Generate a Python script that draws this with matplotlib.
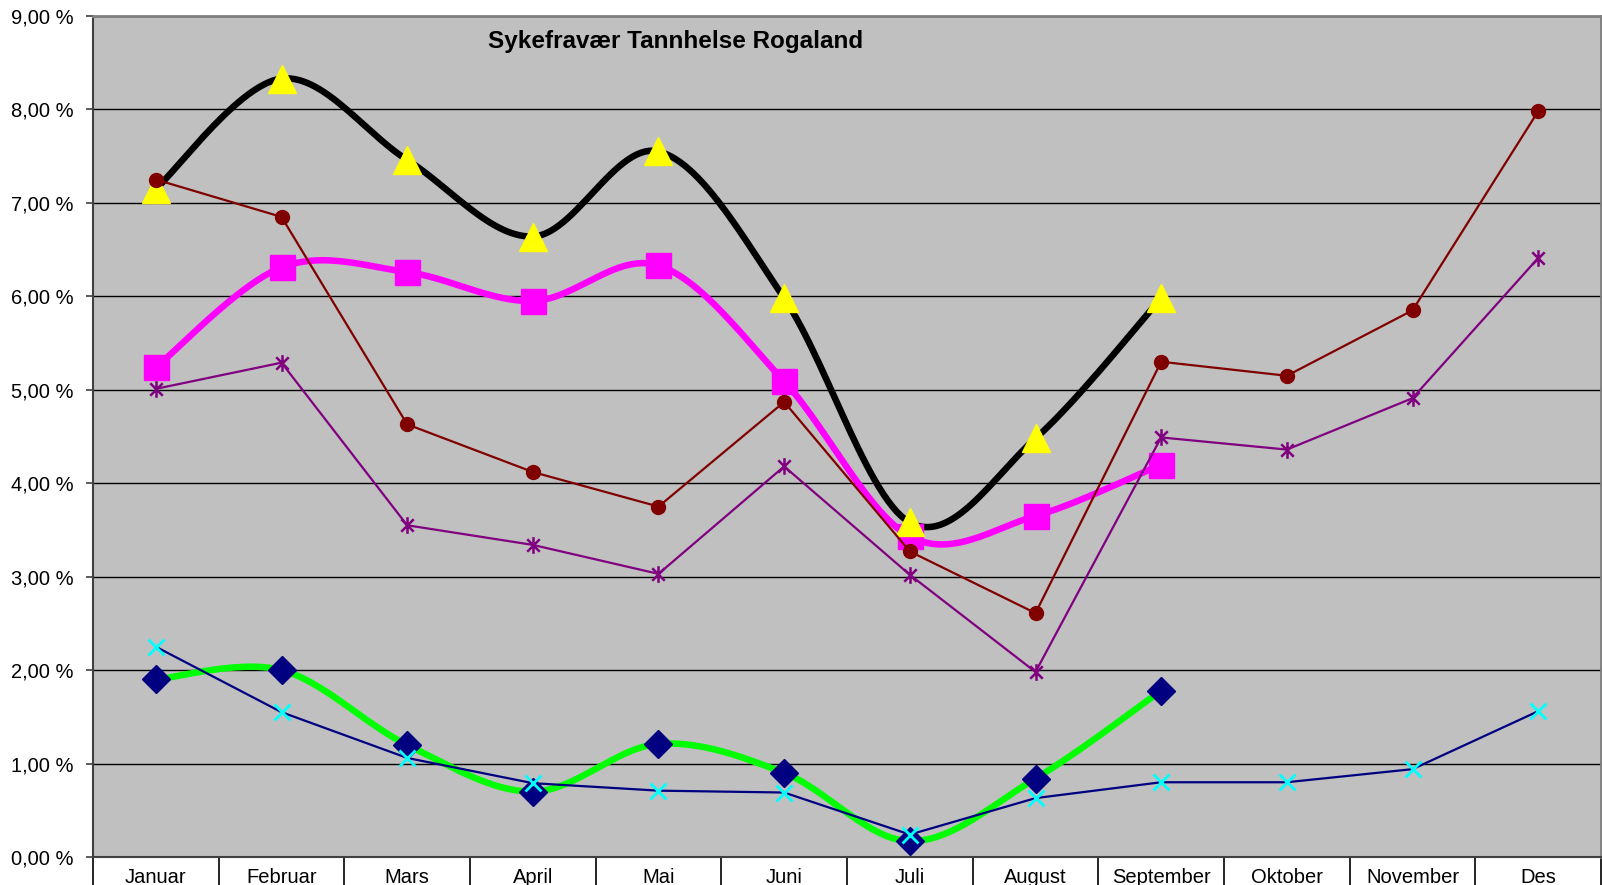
import matplotlib
matplotlib.use("Agg")
import matplotlib.pyplot as plt
import numpy as np
from matplotlib.path import Path
from matplotlib.ticker import FuncFormatter, FixedLocator

# Data (percent)
months = ["Januar", "Februar", "Mars", "April", "Mai", "Juni", "Juli",
          "August", "September", "Oktober", "November", "Des"]

black_tri = [7.15, 8.33, 7.46, 6.64, 7.55, 5.98, 3.58, 4.48, 5.98]
magenta_sq = [5.24, 6.31, 6.26, 5.95, 6.33, 5.09, 3.43, 3.65, 4.20]
red_circle = [7.25, 6.85, 4.63, 4.12, 3.75, 4.87, 3.27, 2.61, 5.30, 5.15, 5.85, 7.98]
purple_star = [5.01, 5.29, 3.55, 3.34, 3.03, 4.18, 3.02, 1.98, 4.49, 4.36, 4.91, 6.41]
green_diamond = [1.90, 2.00, 1.20, 0.70, 1.21, 0.90, 0.17, 0.84, 1.78]
navy_x = [2.25, 1.55, 1.06, 0.79, 0.71, 0.69, 0.24, 0.63, 0.80, 0.80, 0.94, 1.56]

title = "Sykefravær Tannhelse Rogaland"


def smooth(xs, ys, n=30):
    # Bezier-smoothing som i Excel (Catmull-Rom-lignende)
    xs = np.asarray(xs, float)
    ys = np.asarray(ys, float)
    px = np.concatenate([[xs[0]], xs, [xs[-1]]])
    py = np.concatenate([[ys[0]], ys, [ys[-1]]])
    outx, outy = [], []
    t = np.linspace(0, 1, n)
    for i in range(1, len(px) - 2):
        p0 = np.array([px[i], py[i]])
        p3 = np.array([px[i + 1], py[i + 1]])
        c1 = p0 + (np.array([px[i + 1], py[i + 1]]) - np.array([px[i - 1], py[i - 1]])) / 6
        c2 = p3 - (np.array([px[i + 2], py[i + 2]]) - np.array([px[i], py[i]])) / 6
        b = ((1 - t) ** 3)[:, None] * p0 + (3 * (1 - t) ** 2 * t)[:, None] * c1 \
            + (3 * (1 - t) * t ** 2)[:, None] * c2 + (t ** 3)[:, None] * p3
        outx.extend(b[:, 0])
        outy.extend(b[:, 1])
    return outx, outy


star = Path([(0, -1), (0, 1), (-0.75, -0.75), (0.75, 0.75), (-0.75, 0.75), (0.75, -0.75)],
            [Path.MOVETO, Path.LINETO, Path.MOVETO, Path.LINETO, Path.MOVETO, Path.LINETO])

plt.rcParams['font.family'] = ['Liberation Sans', 'DejaVu Sans']

fig = plt.figure(figsize=(16.02, 8.85), dpi=100)
ax = fig.add_axes([93 / 1602, 28 / 885, 1508 / 1602, 841 / 885])
ax.set_facecolor("#C0C0C0")

x_all = np.arange(1, len(months) + 1)

# Grid
for v in range(1, 10):
    ax.axhline(v, color="black", linewidth=1.0, zorder=1)

# Tykke glattede linjer
sx, sy = smooth(x_all[:len(magenta_sq)], magenta_sq)
ax.plot(sx, sy, color="#FF00FF", linewidth=4.7, zorder=2, solid_capstyle="round")
sx, sy = smooth(x_all[:len(black_tri)], black_tri)
ax.plot(sx, sy, color="black", linewidth=4.7, zorder=2, solid_capstyle="round")
sx, sy = smooth(x_all[:len(green_diamond)], green_diamond)
ax.plot(sx, sy, color="#00FF00", linewidth=4.7, zorder=2, solid_capstyle="round")

# Tynne linjer
ax.plot(x_all, red_circle, color="#800000", linewidth=1.6, marker="o", markersize=10,
        markerfacecolor="#800000", markeredgecolor="#800000", zorder=4)
ax.plot(x_all, purple_star, color="#800080", linewidth=1.6, marker=star, markersize=12,
        markeredgecolor="#800080", markeredgewidth=1.8, zorder=4)
ax.plot(x_all, navy_x, color="#000080", linewidth=1.6, zorder=4)
ax.plot(x_all, navy_x, linestyle="none", marker="x", markersize=11,
        markeredgecolor="#00FFFF", markeredgewidth=2, zorder=5)

# Markører for tykke linjer
ax.plot(x_all[:len(magenta_sq)], magenta_sq, linestyle="none", marker="s", markersize=18,
        color="#FF00FF", zorder=3)
ax.plot(x_all[:len(black_tri)], black_tri, linestyle="none", marker="^", markersize=20,
        color="#FFFF00", zorder=3)
ax.plot(x_all[:len(green_diamond)], green_diamond, linestyle="none", marker="D", markersize=14,
        color="#000080", zorder=3)

ax.set_xlim(0.5, 12.5)
ax.set_ylim(0, 9)
ax.set_yticks(np.arange(0, 10, 1))
ax.yaxis.set_major_formatter(FuncFormatter(lambda v, p: f"{v:.2f}".replace(".", ",") + " %"))
ax.tick_params(axis="y", length=5, width=1.2, color="#404040", pad=9, labelsize=14.5)

ax.set_xticks(x_all)
ax.set_xticklabels(months)
ax.xaxis.set_minor_locator(FixedLocator(np.arange(0.5, 13, 1)))
ax.tick_params(axis="x", which="major", length=0, pad=8, labelsize=14.5)
ax.tick_params(axis="x", which="minor", length=30, width=1.2, color="black")

for side in ["top", "right"]:
    ax.spines[side].set_color("#808080")
    ax.spines[side].set_linewidth(2)
ax.spines["left"].set_color("#404040")
ax.spines["left"].set_linewidth(1.5)
ax.spines["bottom"].set_color("#404040")
ax.spines["bottom"].set_linewidth(1.5)

ax.text(0.386, 0.962, title, transform=ax.transAxes, ha="center", va="baseline",
        fontsize=17.5, fontweight="bold")

fig.savefig("out.png", dpi=100)
